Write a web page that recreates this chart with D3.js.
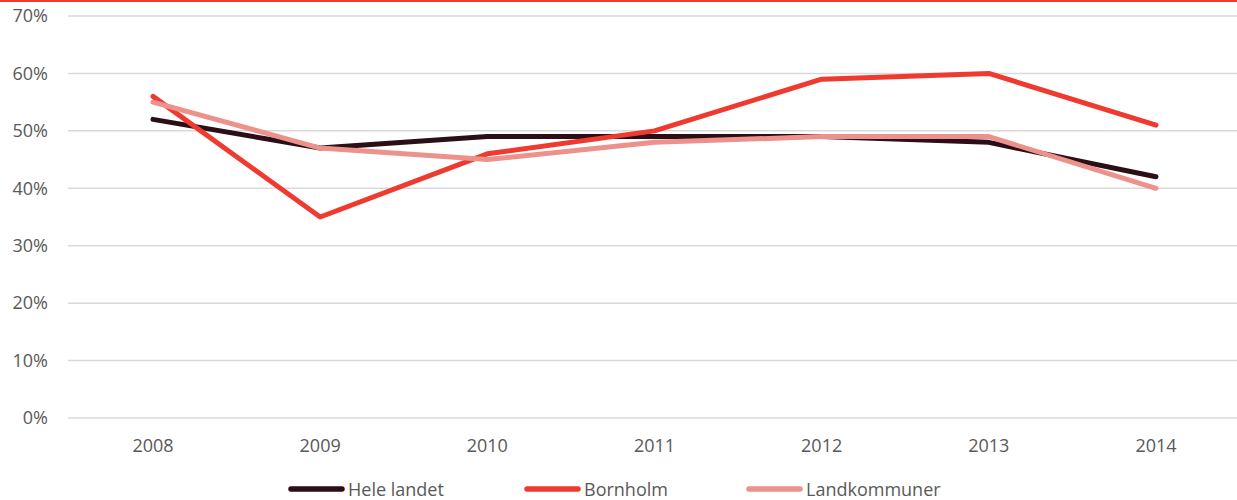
<!DOCTYPE html>
<html><head><meta charset="utf-8">
<script src="https://cdn.jsdelivr.net/npm/d3@7"></script>
<style>body{margin:0;background:#fff;}svg{display:block;font-family:"Open Sans","Liberation Sans",sans-serif;}</style>
</head><body><svg id="c" width="1237" height="500"></svg>
<script>
const years = ["2008","2009","2010","2011","2012","2013","2014"];
const heleLandet = [52,47,49,49,49,48,42];
const bornholm = [56,35,46,50,59,60,51];
const landkommuner = [55,47,45,48,49,49,40];
const yTicks = [0,10,20,30,40,50,60,70];
const seriesNames = ["Hele landet","Bornholm","Landkommuner"];
const colors = ["#2b0e16","#ee3a2f","#ec918b"];

const svg = d3.select("#c");
svg.append("rect").attr("x",0).attr("y",0).attr("width",1237).attr("height",2).attr("fill","#ee3a2f");

const x = d3.scalePoint().domain(years).range([153,1156]);
const y = d3.scaleLinear().domain([0,70]).range([418,16]);

const gy = svg.append("g");
gy.selectAll("line").data(yTicks).join("line")
  .attr("x1",68).attr("x2",1237).attr("y1",d=>y(d)).attr("y2",d=>y(d))
  .attr("stroke","#d9d9d9").attr("stroke-width",1.5);
gy.selectAll("text").data(yTicks).join("text")
  .attr("x",48).attr("y",d=>y(d)).attr("dy","0.35em").attr("text-anchor","end")
  .attr("font-size",18).attr("fill","#595959").text(d=>d+"%");

svg.append("g").selectAll("text").data(years).join("text")
  .attr("x",d=>x(d)).attr("y",452).attr("text-anchor","middle")
  .attr("font-size",18).attr("fill","#595959").text(d=>d);

const data = [heleLandet,bornholm,landkommuner];
const line = d3.line().x((d,i)=>x(years[i])).y(d=>y(d));
data.forEach((s,k)=>{
  svg.append("path").attr("d",line(s)).attr("fill","none")
    .attr("stroke",colors[k]).attr("stroke-width",5)
    .attr("stroke-linecap","round").attr("stroke-linejoin","round");
});

const legX = [291,527,749];
const lg = svg.append("g");
seriesNames.forEach((n,k)=>{
  lg.append("line").attr("x1",legX[k]).attr("x2",legX[k]+51).attr("y1",489).attr("y2",489)
    .attr("stroke",colors[k]).attr("stroke-width",5.5).attr("stroke-linecap","round");
  lg.append("text").attr("x",legX[k]+57).attr("y",496)
    .attr("font-size",18).attr("fill","#595959").text(n);
});
</script></body></html>
